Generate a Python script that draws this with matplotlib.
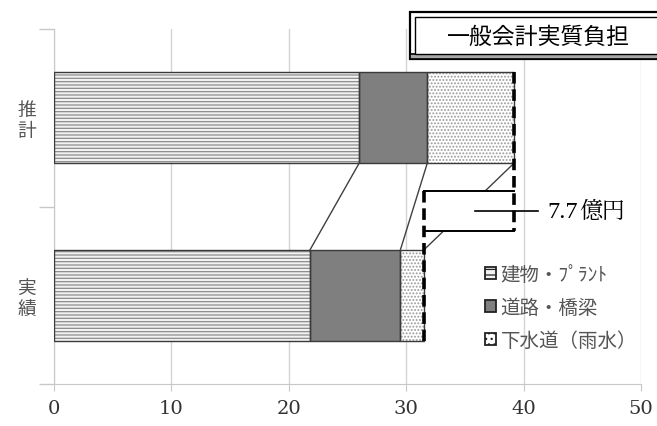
import matplotlib
matplotlib.use("Agg")
import matplotlib.pyplot as plt
from matplotlib.patches import Rectangle, Patch

plt.rcParams['font.family'] = ['Noto Sans CJK JP', 'DejaVu Sans']
plt.rcParams['hatch.linewidth'] = 0.9

# Data (億円)
categories = ['実績', '推計']
series_names = ['建物・ﾌﾟﾗﾝﾄ', '道路・橋梁', '下水道（雨水）']
building = [21.8, 26.0]
roads = [7.7, 5.8]
sewer = [2.0, 7.4]
diff_label = '7.7'
x_ticks = [0, 10, 20, 30, 40, 50]

fig = plt.figure(figsize=(6.57, 4.27), dpi=100)
ax = fig.add_axes([54 / 657, 1 - 385 / 427, (641 - 54) / 657, (385 - 30) / 427])

ypos = [0, 1]
h = 0.51
series = [building, roads, sewer]
faces = ['#f2f2f2', '#7f7f7f', '#ffffff']
hatches = ['-----', None, '.....']
hatch_cols = ['#8c8c8c', '#7f7f7f', '#9a9a9a']

left = [0.0, 0.0]
ends = []
for vals, fc, ht, hc, name in zip(series, faces, hatches, hatch_cols, series_names):
    ax.barh(ypos, vals, left=left, height=h, color=fc, hatch=ht,
            edgecolor=hc, linewidth=0, zorder=2)
    ax.barh(ypos, vals, left=left, height=h, facecolor='none',
            edgecolor='#3a3a3a', linewidth=1.0, zorder=3)
    left = [l + v for l, v in zip(left, vals)]
    ends.append(list(left))

# connectors between segment ends of the two bars
for e in ends:
    ax.plot([e[1], e[0]], [1 - h / 2, 0 + h / 2], color='#404040', lw=1.0, zorder=3)

tot_act, tot_est = ends[-1][0], ends[-1][1]

# difference box
box_lo, box_hi = 0.362, 0.585
ax.add_patch(Rectangle((tot_act, box_lo), tot_est - tot_act, box_hi - box_lo,
                       facecolor='white', edgecolor='none', zorder=4))
ax.plot([tot_act, tot_est], [box_hi, box_hi], color='black', lw=1.4, zorder=5)
ax.plot([tot_act, tot_est], [box_lo, box_lo], color='black', lw=1.4, zorder=5)
ax.plot([tot_est, tot_est], [1 + h / 2, box_lo], color='black', lw=2.6,
        ls=(0, (3.2, 1.6)), zorder=5)
ax.plot([tot_act, tot_act], [box_hi, 0 - h / 2], color='black', lw=2.6,
        ls=(0, (3.2, 1.6)), zorder=5)

mid_y = (box_lo + box_hi) / 2
x_lab = tot_est + 2.0
ax.plot([(tot_act + tot_est) / 2 + 0.5, x_lab], [mid_y, mid_y], color='black', lw=1.2, zorder=5)
ax.text(x_lab + 0.8, mid_y, diff_label, fontsize=17.5, va='center', ha='left',
        family=['Liberation Serif', 'Noto Sans CJK JP'], zorder=6)
ax.text(x_lab + 0.8 + 2.75, mid_y, '億円', fontsize=16.5, va='center', ha='left',
        family=['Noto Serif CJK JP', 'Noto Sans CJK JP'], zorder=6)

ax.set_xlim(0, 50)
ax.set_ylim(-0.5, 1.5)
ax.set_xticks(x_ticks)
ax.set_xticklabels([str(t) for t in x_ticks], fontsize=14, color='#333333',
                   family=['DejaVu Serif'])
ax.tick_params(axis='x', length=5, color='#c8c8c8', pad=6)
ax.grid(axis='x', color='#d4d4d4', lw=1.0, zorder=0)
ax.set_axisbelow(True)

ax.set_yticks(ypos)
ax.set_yticklabels(['\n'.join(c) for c in categories], fontsize=13.5,
                   color='#555555', linespacing=1.0)
ax.tick_params(axis='y', which='major', length=0, pad=13)
ax.set_yticks([-0.5, 0.5, 1.5], minor=True)
ax.tick_params(axis='y', which='minor', length=11, color='#c8c8c8', width=1)

for s in ['top', 'right']:
    ax.spines[s].set_visible(False)
for s in ['left', 'bottom']:
    ax.spines[s].set_color('#c8c8c8')

# legend
handles = [Patch(facecolor=fc, edgecolor='#222222', hatch=(ht[:3] if ht else None), lw=1.3)
           for fc, ht in zip(faces, hatches)]
leg = ax.legend(handles, series_names, loc='upper left',
                bbox_to_anchor=(485 / 657, 1 - 265 / 427), bbox_transform=fig.transFigure,
                frameon=False, fontsize=14, handlelength=0.55, handleheight=0.55,
                handletextpad=0.25, labelspacing=0.62, borderpad=0, borderaxespad=0)
for t in leg.get_texts():
    t.set_color('#555555')

# title box with double frame
W, H = 657, 427
fig.patches.append(Rectangle((410 / W, 1 - 60 / H), 260 / W, 47 / H, transform=fig.transFigure,
                             facecolor='white', edgecolor='black', lw=1.6, zorder=10))
fig.patches.append(Rectangle((410 / W, 1 - 60 / H), 260 / W, 5 / H, transform=fig.transFigure,
                             facecolor='#a8a8a8', edgecolor='black', lw=1.2, zorder=10.5))
fig.patches.append(Rectangle((415 / W, 1 - 55 / H), 250 / W, 37 / H, transform=fig.transFigure,
                             facecolor='white', edgecolor='black', lw=1.0, zorder=11))
fig.text(538 / W, 1 - 37 / H, '一般会計実質負担', fontsize=16.5, ha='center', va='center',
         zorder=12)

fig.savefig('out.png', dpi=100)
